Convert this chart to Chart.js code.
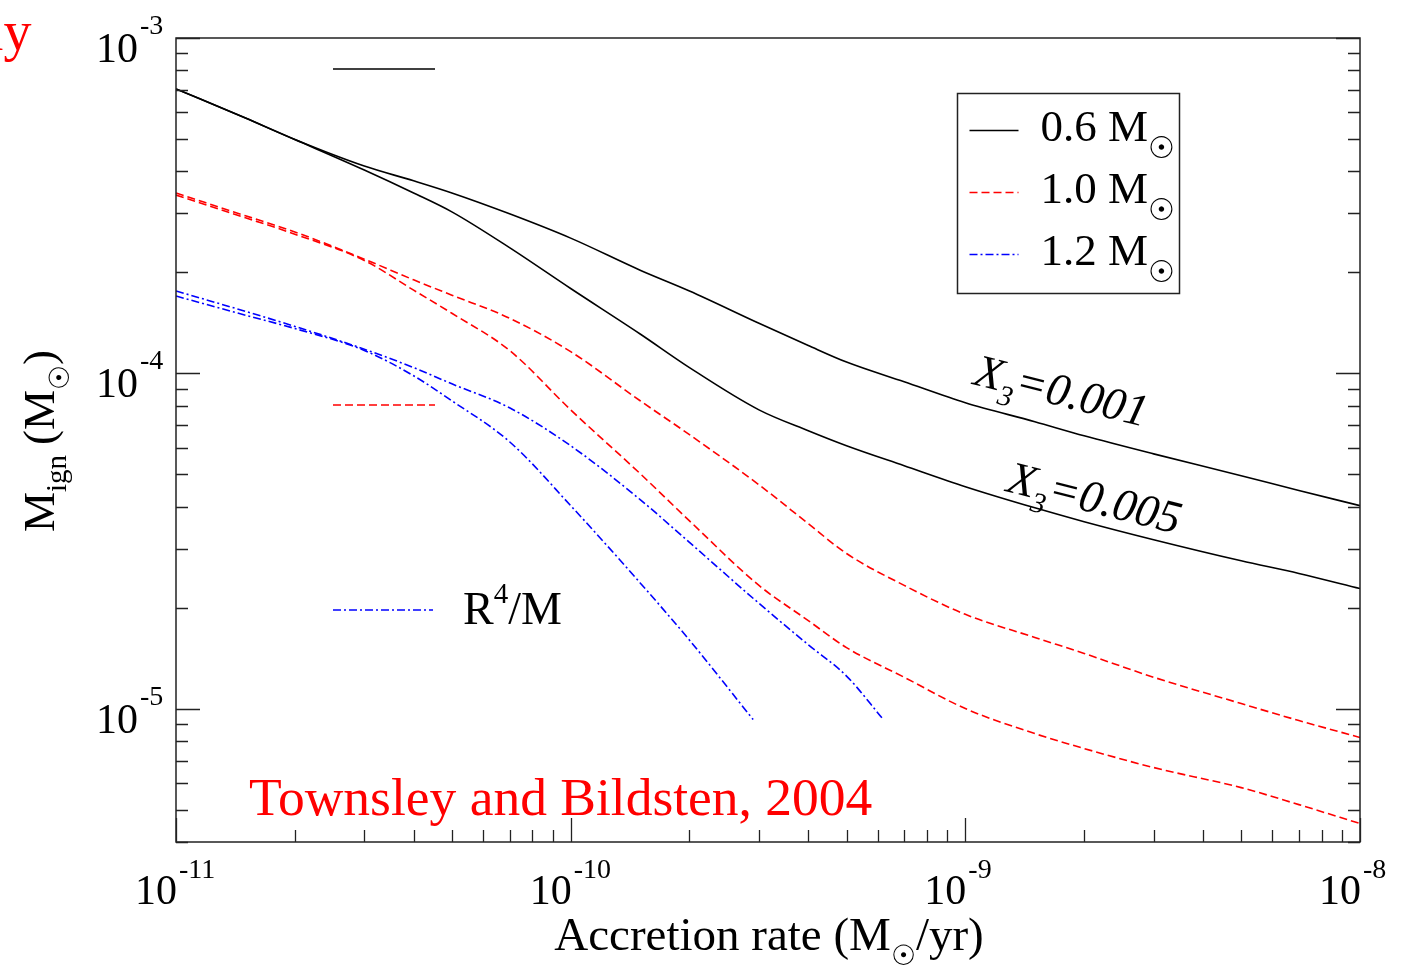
<!DOCTYPE html>
<html>
<head>
<meta charset="utf-8">
<script src="https://cdn.jsdelivr.net/npm/chart.js@4.4.0/dist/chart.umd.min.js"></script>
<style>
  html, body { margin: 0; padding: 0; background: #fff; }
  #wrap { width: 1416px; height: 966px; }
</style>
</head>
<body>
<div id="wrap"><canvas id="chart" width="1416" height="966"></canvas></div>
<script>
// accretion rate grid (Msun/yr)
const rates = [1e-11, 1.5e-11, 2e-11, 3e-11, 4e-11, 5e-11, 7e-11, 1e-10, 1.5e-10, 2e-10, 3e-10,
               4e-10, 5e-10, 7e-10, 1e-9, 1.5e-9, 2e-9, 3e-9, 5e-9, 7e-9, 1e-8];

// ignition mass (Msun) for the 0.6 Msun white dwarf
const m06_x001 = [7.05e-4, 5.77e-4, 4.98e-4, 4.15e-4, 3.75e-4, 3.45e-4, 2.99e-4, 2.53e-4, 2.03e-4, 1.76e-4, 1.41e-4,
                  1.21e-4, 1.08e-4, 9.43e-5, 8.17e-5, 7.17e-5, 6.51e-5, 5.75e-5, 4.95e-5, 4.47e-5, 4.03e-5];
const m06_x005 = [7.05e-4, 5.77e-4, 4.98e-4, 4.04e-4, 3.45e-4, 3.03e-4, 2.37e-4, 1.79e-4, 1.31e-4, 1.04e-4, 7.78e-5,
                  6.74e-5, 6.08e-5, 5.30e-5, 4.59e-5, 3.97e-5, 3.61e-5, 3.19e-5, 2.76e-5, 2.53e-5, 2.28e-5];

// 1.0 Msun
const m10_x001 = [3.45e-4, 2.95e-4, 2.64e-4, 2.19e-4, 1.90e-4, 1.71e-4, 1.46e-4, 1.16e-4, 8.28e-5, 6.56e-5, 4.65e-5,
                  3.56e-5, 2.90e-5, 2.33e-5, 1.91e-5, 1.63e-5, 1.46e-5, 1.24e-5, 1.035e-5, 9.21e-6, 8.20e-6];
const m10_x005 = [3.40e-4, 2.91e-4, 2.60e-4, 2.17e-4, 1.77e-4, 1.51e-4, 1.17e-4, 7.78e-5, 5.02e-5, 3.63e-5, 2.33e-5,
                  1.83e-5, 1.52e-5, 1.24e-5, 1.00e-5, 8.42e-6, 7.60e-6, 6.67e-6, 5.81e-6, 5.17e-6, 4.54e-6];

// 1.2 Msun, these runs stop at lower rates
const rates12_x001 = [1e-11, 1.5e-11, 2e-11, 3e-11, 4e-11, 5e-11, 7e-11, 1e-10, 1.5e-10, 2e-10, 3e-10, 4e-10, 5e-10, 6.2e-10];
const m12_x001 = [1.76e-4, 1.53e-4, 1.38e-4, 1.18e-4, 1.04e-4, 9.30e-5, 7.89e-5, 6.08e-5, 4.20e-5, 3.13e-5, 2.06e-5,
                  1.55e-5, 1.25e-5, 9.27e-6];
const rates12_x005 = [1e-11, 1.5e-11, 2e-11, 3e-11, 4e-11, 5e-11, 7e-11, 1e-10, 1.5e-10, 2e-10, 2.9e-10];
const m12_x005 = [1.70e-4, 1.49e-4, 1.36e-4, 1.17e-4, 9.83e-5, 8.28e-5, 6.25e-5, 4.03e-5, 2.37e-5, 1.60e-5, 9.27e-6];

const legendLabels = ['0.6 M', '1.0 M', '1.2 M'];
const xDecades = [1e-11, 1e-10, 1e-9, 1e-8];
const yDecades = [1e-3, 1e-4, 1e-5];

const SERIF = '"Liberation Serif", "Times New Roman", "DejaVu Serif", serif';
const BLACK = '#000000', RED = '#ff0000', BLUE = '#0000ff';
const DASH_RED = [8, 4];
const DASH_BLUE = [8, 3, 2, 3];

function pts(xs, ys) {
    return xs.map((x, i) => ({ x: x, y: ys[i] }));
}

function line(data, color, dash) {
    return {
        data: data,
        borderColor: color,
        borderWidth: 1.6,
        borderDash: dash,
        pointRadius: 0,
        fill: false,
        cubicInterpolationMode: 'monotone'
    };
}

// text made of runs, each with its own size / vertical shift
function font(p) {
    return (p.italic ? 'italic ' : '') + p.size + 'px ' + SERIF;
}
function drawRuns(ctx, parts, x, y, align) {
    let w = 0;
    parts.forEach(p => { ctx.font = font(p); w += ctx.measureText(p.t).width + (p.gap || 0); });
    let cx = align === 'right' ? x - w : align === 'center' ? x - w / 2 : x;
    ctx.textAlign = 'left';
    parts.forEach(p => {
        ctx.font = font(p);
        ctx.fillText(p.t, cx, y + (p.dy || 0));
        cx += ctx.measureText(p.t).width + (p.gap || 0);
    });
}

function logTicks(min, max) {
    const out = [];
    for (let e = Math.floor(Math.log10(min)); e <= Math.ceil(Math.log10(max)); e++) {
        for (let m = 1; m <= 9; m++) {
            const v = m * Math.pow(10, e);
            if (v >= min * 0.999 && v <= max * 1.001) out.push({ v: v, major: m === 1 });
        }
    }
    return out;
}

function keyLine(ctx, x0, x1, y, color, dash) {
    ctx.save();
    ctx.strokeStyle = color;
    ctx.lineWidth = 1.6;
    ctx.setLineDash(dash);
    ctx.beginPath();
    ctx.moveTo(x0, y);
    ctx.lineTo(x1, y);
    ctx.stroke();
    ctx.restore();
}

// frame, inward ticks, labels and annotations
const decorations = {
    id: 'decorations',
    afterDraw(chart) {
        const ctx = chart.ctx;
        const a = chart.chartArea;
        const xs = chart.scales.x, ys = chart.scales.y;
        ctx.save();

        // frame
        ctx.strokeStyle = '#222';
        ctx.lineWidth = 1.5;
        ctx.strokeRect(a.left, a.top, a.right - a.left, a.bottom - a.top);

        // ticks: bottom, left, right
        ctx.lineWidth = 1.3;
        ctx.beginPath();
        logTicks(xs.min, xs.max).forEach(t => {
            const px = Math.round(xs.getPixelForValue(t.v)) + 0.5;
            const len = t.major ? 24 : 12;
            ctx.moveTo(px, a.bottom);
            ctx.lineTo(px, a.bottom - len);
        });
        logTicks(ys.min, ys.max).forEach(t => {
            const py = Math.round(ys.getPixelForValue(t.v)) + 0.5;
            const len = t.major ? 24 : 12;
            ctx.moveTo(a.left, py);
            ctx.lineTo(a.left + len, py);
            ctx.moveTo(a.right, py);
            ctx.lineTo(a.right - len, py);
        });
        ctx.stroke();

        // tick labels
        ctx.fillStyle = '#000';
        ctx.textBaseline = 'alphabetic';
        xDecades.forEach(v => {
            const px = xs.getPixelForValue(v);
            drawRuns(ctx, [{ t: '10', size: 42 }], px + 1, a.bottom + 62, 'right');
            drawRuns(ctx, [{ t: String(Math.round(Math.log10(v))), size: 28 }], px + 3, a.bottom + 36, 'left');
        });
        yDecades.forEach(v => {
            const py = ys.getPixelForValue(v);
            drawRuns(ctx, [{ t: '10', size: 42 }], a.left - 38, py + 24, 'right');
            drawRuns(ctx, [{ t: String(Math.round(Math.log10(v))), size: 28 }], a.left - 36, py - 4, 'left');
        });

        // axis titles
        drawRuns(ctx, [
            { t: 'Accretion rate (M', size: 47 },
            { t: '\u2609', size: 28, dy: 15 },
            { t: '/yr)', size: 47 }
        ], (a.left + a.right) / 2 + 1, a.bottom + 108, 'center');

        ctx.save();
        ctx.translate(54, (a.top + a.bottom) / 2 + 1);
        ctx.rotate(-Math.PI / 2);
        drawRuns(ctx, [
            { t: 'M', size: 45 },
            { t: 'ign', size: 29, dy: 12, gap: 10 },
            { t: '(M', size: 45 },
            { t: '\u2609', size: 28, dy: 15 },
            { t: ')', size: 45 }
        ], 0, 0, 'center');
        ctx.restore();

        // legend box
        const lx = a.left + 781.5, ly = a.top + 55.5;
        ctx.strokeStyle = '#222';
        ctx.lineWidth = 1.5;
        ctx.strokeRect(lx, ly, 222, 200);
        const styles = [[BLACK, []], [RED, DASH_RED], [BLUE, DASH_BLUE]];
        legendLabels.forEach((lab, i) => {
            const rowY = ly + 37 + i * 62;
            keyLine(ctx, lx + 12, lx + 61, rowY, styles[i][0], styles[i][1]);
            ctx.fillStyle = '#000';
            drawRuns(ctx, [
                { t: lab, size: 45 },
                { t: '\u2609', size: 30, dy: 17 }
            ], lx + 83, rowY + 10, 'left');
        });

        // second key, top-left of the plot
        keyLine(ctx, a.left + 157, a.left + 259, a.top + 31, BLACK, []);
        keyLine(ctx, a.left + 157, a.left + 259, a.top + 367, RED, DASH_RED);
        keyLine(ctx, a.left + 157, a.left + 257, a.top + 572, BLUE, DASH_BLUE);
        ctx.fillStyle = '#000';
        drawRuns(ctx, [
            { t: 'R', size: 46 },
            { t: '4', size: 29, dy: -21 },
            { t: '/M', size: 46 }
        ], a.left + 287, a.top + 586, 'left');

        // composition labels along the 0.6 Msun curves
        [['0.001', 972, 384], ['0.005', 1005, 491]].forEach(([val, x, y]) => {
            ctx.save();
            ctx.translate(x, y);
            ctx.rotate(14 * Math.PI / 180);
            ctx.fillStyle = '#000';
            drawRuns(ctx, [
                { t: 'X', size: 46, italic: true },
                { t: '3', size: 29, italic: true, dy: 13 },
                { t: '=' + val, size: 46, italic: true }
            ], 0, 0, 'left');
            ctx.restore();
        });

        // citation
        ctx.fillStyle = RED;
        drawRuns(ctx, [{ t: 'Townsley and Bildsten, 2004', size: 53.5 }], 249, 815, 'left');
        drawRuns(ctx, [{ t: 'ly', size: 56 }], -12, 50, 'left');

        ctx.restore();
    }
};

new Chart(document.getElementById('chart'), {
    type: 'line',
    data: {
        datasets: [
            line(pts(rates, m06_x001), BLACK, []),
            line(pts(rates, m06_x005), BLACK, []),
            line(pts(rates, m10_x001), RED, DASH_RED),
            line(pts(rates, m10_x005), RED, DASH_RED),
            line(pts(rates12_x001, m12_x001), BLUE, DASH_BLUE),
            line(pts(rates12_x005, m12_x005), BLUE, DASH_BLUE)
        ]
    },
    options: {
        responsive: false,
        animation: false,
        devicePixelRatio: 1,
        layout: { padding: { left: 176, top: 38, right: 56, bottom: 124 } },
        plugins: { legend: { display: false }, tooltip: { enabled: false } },
        scales: {
            x: { type: 'logarithmic', min: 1e-11, max: 1e-8, display: false },
            y: { type: 'logarithmic', min: 4e-6, max: 1e-3, display: false }
        }
    },
    plugins: [decorations]
});
</script>
</body>
</html>
